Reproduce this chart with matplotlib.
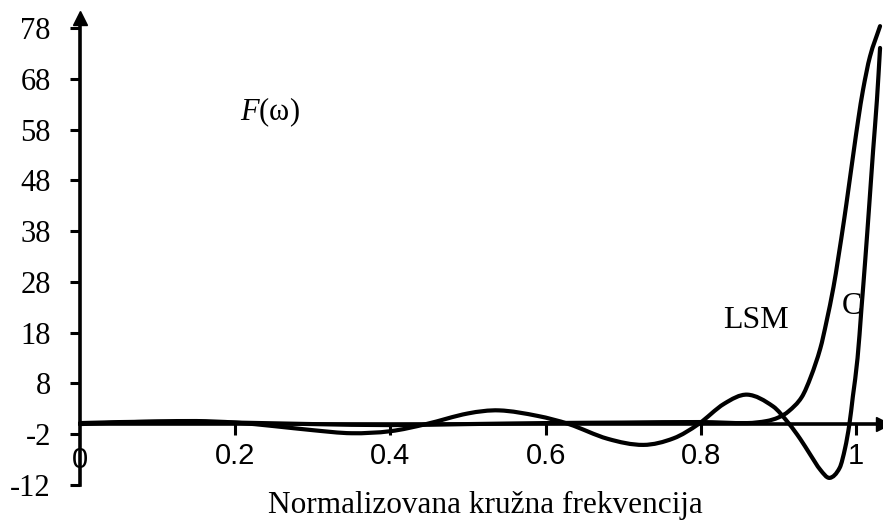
import matplotlib
matplotlib.use("Agg")
import matplotlib.pyplot as plt
from matplotlib.path import Path
from matplotlib.patches import PathPatch
import numpy as np

plt.rcParams['mathtext.fontset'] = 'custom'
plt.rcParams['mathtext.rm'] = 'Liberation Serif'
plt.rcParams['mathtext.it'] = 'Liberation Serif:italic'

# ---- data ----
c_x = [0, 0.05, 0.1, 0.15, 0.2, 0.25, 0.3, 0.35, 0.4, 0.446, 0.5, 0.54, 0.59, 0.63,
       0.68, 0.726, 0.765, 0.797, 0.83, 0.86, 0.893, 0.913, 0.928, 0.941, 0.954,
       0.966, 0.979, 0.986, 0.9915, 0.996, 1.002, 1.007, 1.012, 1.017, 1.022,
       1.027, 1.031]
c_y = [0.0, 0.3, 0.5, 0.6, 0.3, -0.4, -1.2, -1.8, -1.4, 0.0, 2.1, 2.7, 1.6, 0.0,
       -2.9, -4.1, -2.8, 0.0, 4.0, 5.8, 3.5, 0.2, -2.9, -6.0, -9.0,
       -10.6, -8.6, -4.7, 0.0, 5.5, 13.0, 22.7, 32.5, 43.0, 53.8,
       63.9, 74.1]

lsm_x = [0, 0.1, 0.2, 0.3, 0.4, 0.5, 0.6, 0.7, 0.8, 0.86, 0.885, 0.9, 0.913, 0.93,
         0.942, 0.954, 0.962, 0.971, 0.977, 0.985, 0.990, 0.997, 1.003, 1.009,
         1.018, 1.031]
lsm_y = [0.2, 0.5, 0.3, 0.0, -0.2, 0.0, 0.2, 0.3, 0.4, 0.2, 0.6, 1.3, 2.5, 5.3,
         9.4, 14.9, 20.2, 27.0, 32.6, 40.6, 46.0, 53.7, 60.1, 65.8,
         72.4, 78.4]

y_ticks = [-12, -2, 8, 18, 28, 38, 48, 58, 68, 78]
x_ticks = [0.2, 0.4, 0.6, 0.8, 1.0]
x_ticklabels = ['0.2', '0.4', '0.6', '0.8', '1']
x_title = 'Normalizovana kružna frekvencija'


def smooth_path(xs, ys):
    """Smoothed line drawn as cubic Bezier segments (Hermite tangents in x)."""
    x = np.asarray(xs, float)
    y = np.asarray(ys, float)
    n = len(x)
    m = np.empty(n)
    m[0] = (y[1] - y[0]) / (x[1] - x[0])
    m[-1] = (y[-1] - y[-2]) / (x[-1] - x[-2])
    for i in range(1, n - 1):
        m[i] = (y[i + 1] - y[i - 1]) / (x[i + 1] - x[i - 1])
    verts = [(x[0], y[0])]
    codes = [Path.MOVETO]
    for i in range(n - 1):
        h = x[i + 1] - x[i]
        verts += [(x[i] + h / 3, y[i] + m[i] * h / 3),
                  (x[i + 1] - h / 3, y[i + 1] - m[i + 1] * h / 3),
                  (x[i + 1], y[i + 1])]
        codes += [Path.CURVE4] * 3
    return Path(verts, codes)


W, H = 883, 524
fig = plt.figure(figsize=(W / 100, H / 100), dpi=100)
x0_px, x1_px = 80, 856          # data 0 and 1
ymin, ymax = -12, 80
ybot_px, ytop_px = 485, 426 - 80 * 5.1
xmax = 1.035
ax = fig.add_axes([x0_px / W, 1 - ybot_px / H,
                   (x1_px - x0_px) * xmax / W, (ybot_px - ytop_px) / H])
ax.set_xlim(0, xmax)
ax.set_ylim(ymin, ymax)

for s in ['top', 'right']:
    ax.spines[s].set_visible(False)
ax.spines['left'].set_position(('data', 0))
ax.spines['bottom'].set_position(('data', 0))
ax.spines['left'].set_linewidth(2.6)
ax.spines['bottom'].set_linewidth(2.6)

# arrow heads
ax.plot([0], [ymax], marker='^', color='black', markersize=10, clip_on=False, zorder=5)
ax.plot([xmax], [0], marker='>', color='black', markersize=10, clip_on=False, zorder=5)

for xs, ys in [(c_x, c_y), (lsm_x, lsm_y)]:
    ax.add_patch(PathPatch(smooth_path(xs, ys), facecolor='none', edgecolor='black',
                           linewidth=3.0, capstyle='round', joinstyle='round',
                           clip_on=False, zorder=4))

ax.set_yticks(y_ticks)
ax.set_yticklabels([str(v) for v in y_ticks], fontfamily='Liberation Serif', fontsize=22)
ax.tick_params(axis='y', direction='out', length=7, width=2.2, pad=14)
ax.set_xticks(x_ticks)
ax.set_xticklabels(x_ticklabels, fontfamily='Liberation Sans', fontsize=21)
ax.tick_params(axis='x', direction='out', length=8, width=2.2, pad=5)

# "0" label at origin
ax.text(0, -7.0, '0', fontfamily='Liberation Sans', fontsize=21, ha='center', va='center')

ax.text(0.206, 61.4, '$F$(ω)', fontfamily='Liberation Serif', fontsize=22,
        ha='left', va='center')
ax.text(0.829, 20.4, 'LSM', fontfamily='Liberation Serif', fontsize=23,
        ha='left', va='center')
ax.text(0.982, 23.1, 'C', fontfamily='Liberation Serif', fontsize=22,
        ha='left', va='center', zorder=3)

fig.text(485 / W, 1 - 505 / H, x_title, fontfamily='Liberation Serif', fontsize=22.5,
         ha='center', va='center')

fig.savefig('out.png', dpi=100)
